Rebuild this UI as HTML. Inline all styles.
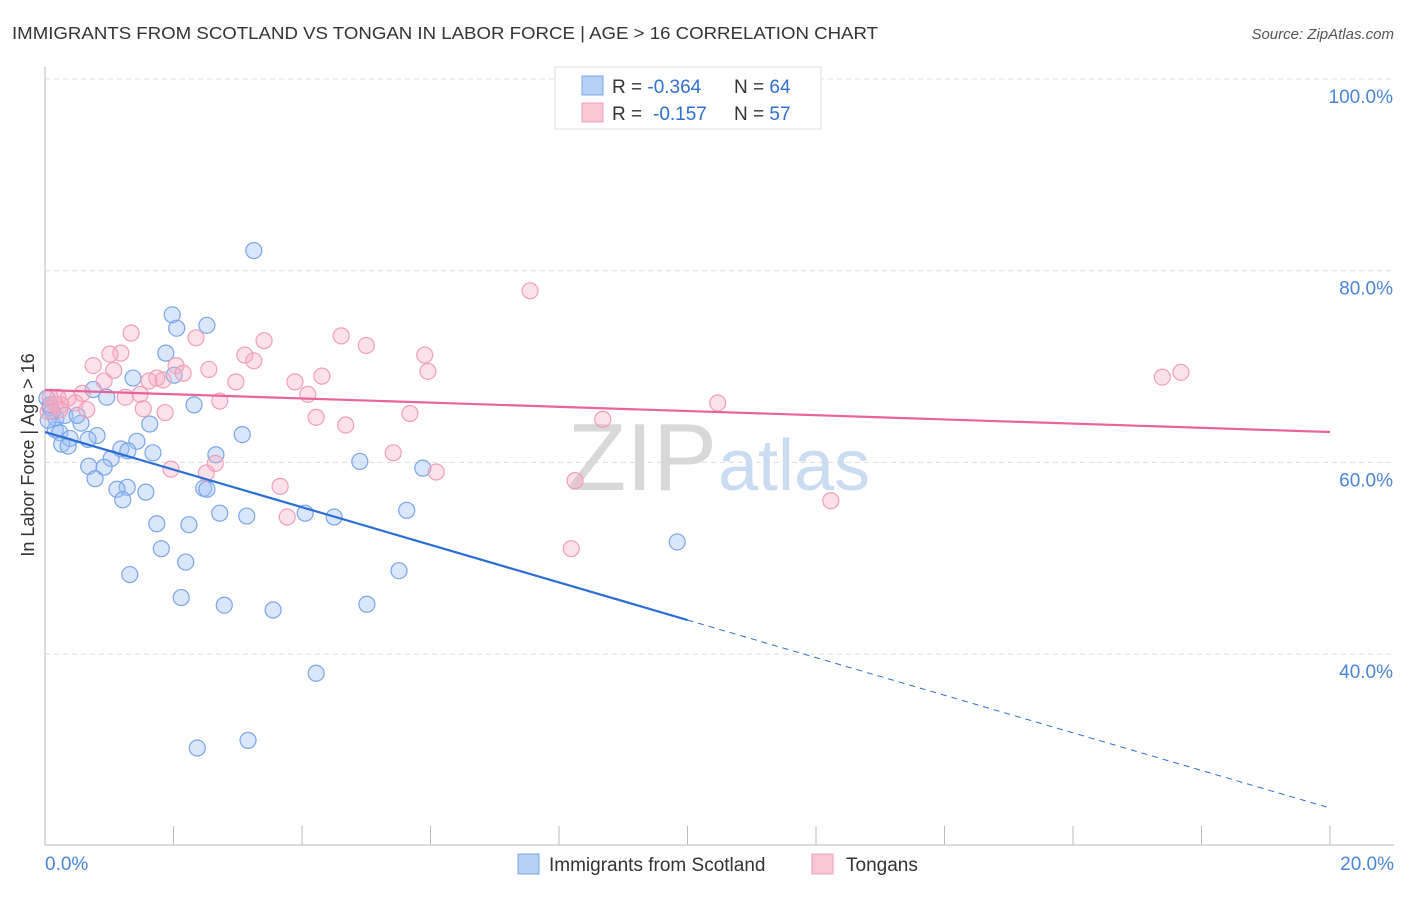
<!DOCTYPE html>
<html><head><meta charset="utf-8"><style>
body{margin:0;background:#fff;font-family:"Liberation Sans",sans-serif;}
svg text{font-family:"Liberation Sans",sans-serif;}
</style></head><body>
<svg id="chart" width="1406" height="892">
<text x="12" y="39" font-size="17.5" fill="#333" textLength="866" lengthAdjust="spacingAndGlyphs">IMMIGRANTS FROM SCOTLAND VS TONGAN IN LABOR FORCE | AGE &gt; 16 CORRELATION CHART</text>
<text x="1394" y="39" font-size="15" fill="#555" font-style="italic" text-anchor="end">Source: ZipAtlas.com</text>
<g id="grid"></g>
<text x="717" y="490" font-size="96" fill="#d8d8d8" text-anchor="end" font-family="Liberation Serif">ZIP</text>
<text x="718" y="490" font-size="72" fill="#c9dcf2">atlas</text>
<text x="34" y="455" font-size="18" fill="#333" text-anchor="middle" transform="rotate(-90 34 455)">In Labor Force | Age &gt; 16</text>
<g id="marks"></g>
<g>
<rect x="555" y="67" width="266" height="62" fill="#fff" stroke="#ddd"/>
<rect x="582" y="76" width="21" height="19" fill="#b7d0f5" stroke="#7aa6e8"/>
<rect x="582" y="103" width="21" height="19" fill="#f9c6d6" stroke="#f0a0b8"/>
<text x="612" y="93" font-size="19" fill="#333">R = <tspan fill="#2f6fd0">-0.364</tspan><tspan x="734">N = </tspan><tspan fill="#2f6fd0">64</tspan></text>
<text x="612" y="120" font-size="19" fill="#333">R = <tspan x="653" fill="#2f6fd0">-0.157</tspan><tspan x="734">N = </tspan><tspan fill="#2f6fd0">57</tspan></text>
</g>
<g>
<rect x="518" y="854" width="21" height="20" fill="#b7d0f5" stroke="#7aa6e8"/>
<text x="549" y="871" font-size="19" fill="#333">Immigrants from Scotland</text>
<rect x="812" y="854" width="21" height="20" fill="#f9c6d6" stroke="#f0a0b8"/>
<text x="846" y="871" font-size="19" fill="#333">Tongans</text>
</g>
</svg>
<script>
const blueX=[3.25,1.98,2.05,2.52,1.88,2.01,1.37,0.75,0.96,2.32,1.63,0.56,0.17,0.31,0.50,0.08,0.11,0.16,0.23,0.39,0.81,0.26,0.36,0.67,3.07,1.43,1.18,1.29,1.68,2.66,1.03,0.68,0.92,4.90,5.88,0.78,1.28,1.12,1.57,2.47,2.52,1.21,2.72,3.14,4.05,4.50,5.63,1.74,2.24,1.81,2.19,1.32,5.51,9.84,2.12,2.79,3.55,5.01,4.22,2.37,3.16,0.03,0.08,0.05];
const blueY=[82.1,75.4,74.0,74.3,71.4,69.1,68.8,67.6,66.8,66.0,64.0,64.1,64.6,64.9,64.9,65.7,65.3,63.4,63.1,62.5,62.8,61.9,61.7,62.4,62.9,62.2,61.4,61.2,61.0,60.8,60.4,59.6,59.5,60.1,59.4,58.3,57.4,57.2,56.9,57.3,57.2,56.1,54.7,54.4,54.7,54.3,55.0,53.6,53.5,51.0,49.6,48.3,48.7,51.7,45.9,45.1,44.6,45.2,38.0,30.2,31.0,66.7,66.0,64.4];
const pinkX=[7.55,17.68,17.39,4.61,5.00,1.34,5.91,3.41,2.35,1.18,1.01,3.11,3.25,0.75,2.04,2.55,2.15,5.96,1.07,4.31,1.74,1.62,1.84,0.92,2.97,3.89,0.58,1.48,1.25,0.20,0.36,4.09,0.25,0.47,0.65,1.53,1.87,2.72,10.47,5.68,4.22,4.68,8.68,5.42,1.96,2.65,2.51,6.09,3.66,3.77,8.25,12.23,8.19,0.08,0.16,0.05,0.23];
const pinkY=[77.9,69.4,68.9,73.2,72.2,73.5,71.2,72.7,73.0,71.4,71.3,71.2,70.6,70.1,70.1,69.7,69.3,69.5,69.6,69.0,68.8,68.5,68.6,68.5,68.4,68.4,67.2,67.1,66.8,66.8,66.7,67.1,66.0,66.2,65.5,65.6,65.2,66.4,66.2,65.1,64.7,63.9,64.5,61.0,59.3,59.9,58.9,59.0,57.5,54.3,58.1,56.0,51.0,66.8,66.1,65.3,65.5];
const yTicks=[100,80,60,40];
const xTicks=[0,2,4,6,8,10,12,14,16,18,20];
const blueTrend=[63.17,23.94];
const pinkTrend=[67.55,63.17];
const NS="http://www.w3.org/2000/svg";
const sx=v=>45+v*64.25;
const sy=v=>79+(100-v)*9.585;
function mk(tag,attrs,parent){const e=document.createElementNS(NS,tag);for(const k in attrs)e.setAttribute(k,attrs[k]);parent.appendChild(e);return e;}
const grid=document.getElementById('grid'),marks=document.getElementById('marks');
yTicks.forEach(t=>{
 const l=mk('line',{x1:45,x2:1394,y1:sy(t),y2:sy(t),stroke:'#ddd','stroke-dasharray':'5,4'},grid);
 
 
 const tx=mk('text',{x:1393,y:sy(t)+24,'font-size':19,fill:'#4a86d8','text-anchor':'end'},grid);
 tx.textContent=t.toFixed(1)+'%';
 
 
});
const ax=mk('line',{x1:45,x2:1394,y1:845,y2:845,stroke:'#bbb'},grid);


const ay=mk('line',{x1:45,x2:45,y1:67,y2:845,stroke:'#bbb'},grid);


xTicks.forEach(t=>{
 const l=mk('line',{x1:sx(t),x2:sx(t),y1:826,y2:845,stroke:'#bbb'},grid);
 
 
});
[[0,'0.0%','start',45],[20,'20.0%','end',1394]].forEach(a=>{
 const tx=mk('text',{x:a[3],y:870,'font-size':19,fill:'#4a86d8','text-anchor':a[2]},grid);
 tx.textContent=a[1];
 
 
});
blueX.forEach((x,i)=>{
 const c=mk('circle',{cx:sx(x),cy:sy(blueY[i]),r:8,fill:'rgba(160,192,244,0.4)',stroke:'#7aa6e8','stroke-width':1.2},marks);
 
 
});
pinkX.forEach((x,i)=>{
 const c=mk('circle',{cx:sx(x),cy:sy(pinkY[i]),r:8,fill:'rgba(246,170,195,0.35)',stroke:'#f0a0b8','stroke-width':1.2},marks);
 
 
});
const bAt=x=>blueTrend[0]+(blueTrend[1]-blueTrend[0])*x/20;
const bl=mk('line',{x1:sx(0),y1:sy(bAt(0)),x2:sx(10),y2:sy(bAt(10)),stroke:'#2b6fd6','stroke-width':2.2},marks);


const bd=mk('line',{x1:sx(10),y1:sy(bAt(10)),x2:sx(20),y2:sy(bAt(20)),stroke:'#2b6fd6','stroke-width':1,'stroke-dasharray':'6,5'},marks);


const pl=mk('line',{x1:sx(0),y1:sy(pinkTrend[0]),x2:sx(20),y2:sy(pinkTrend[1]),stroke:'#e8649a','stroke-width':2.2},marks);


</script>
</body></html>
